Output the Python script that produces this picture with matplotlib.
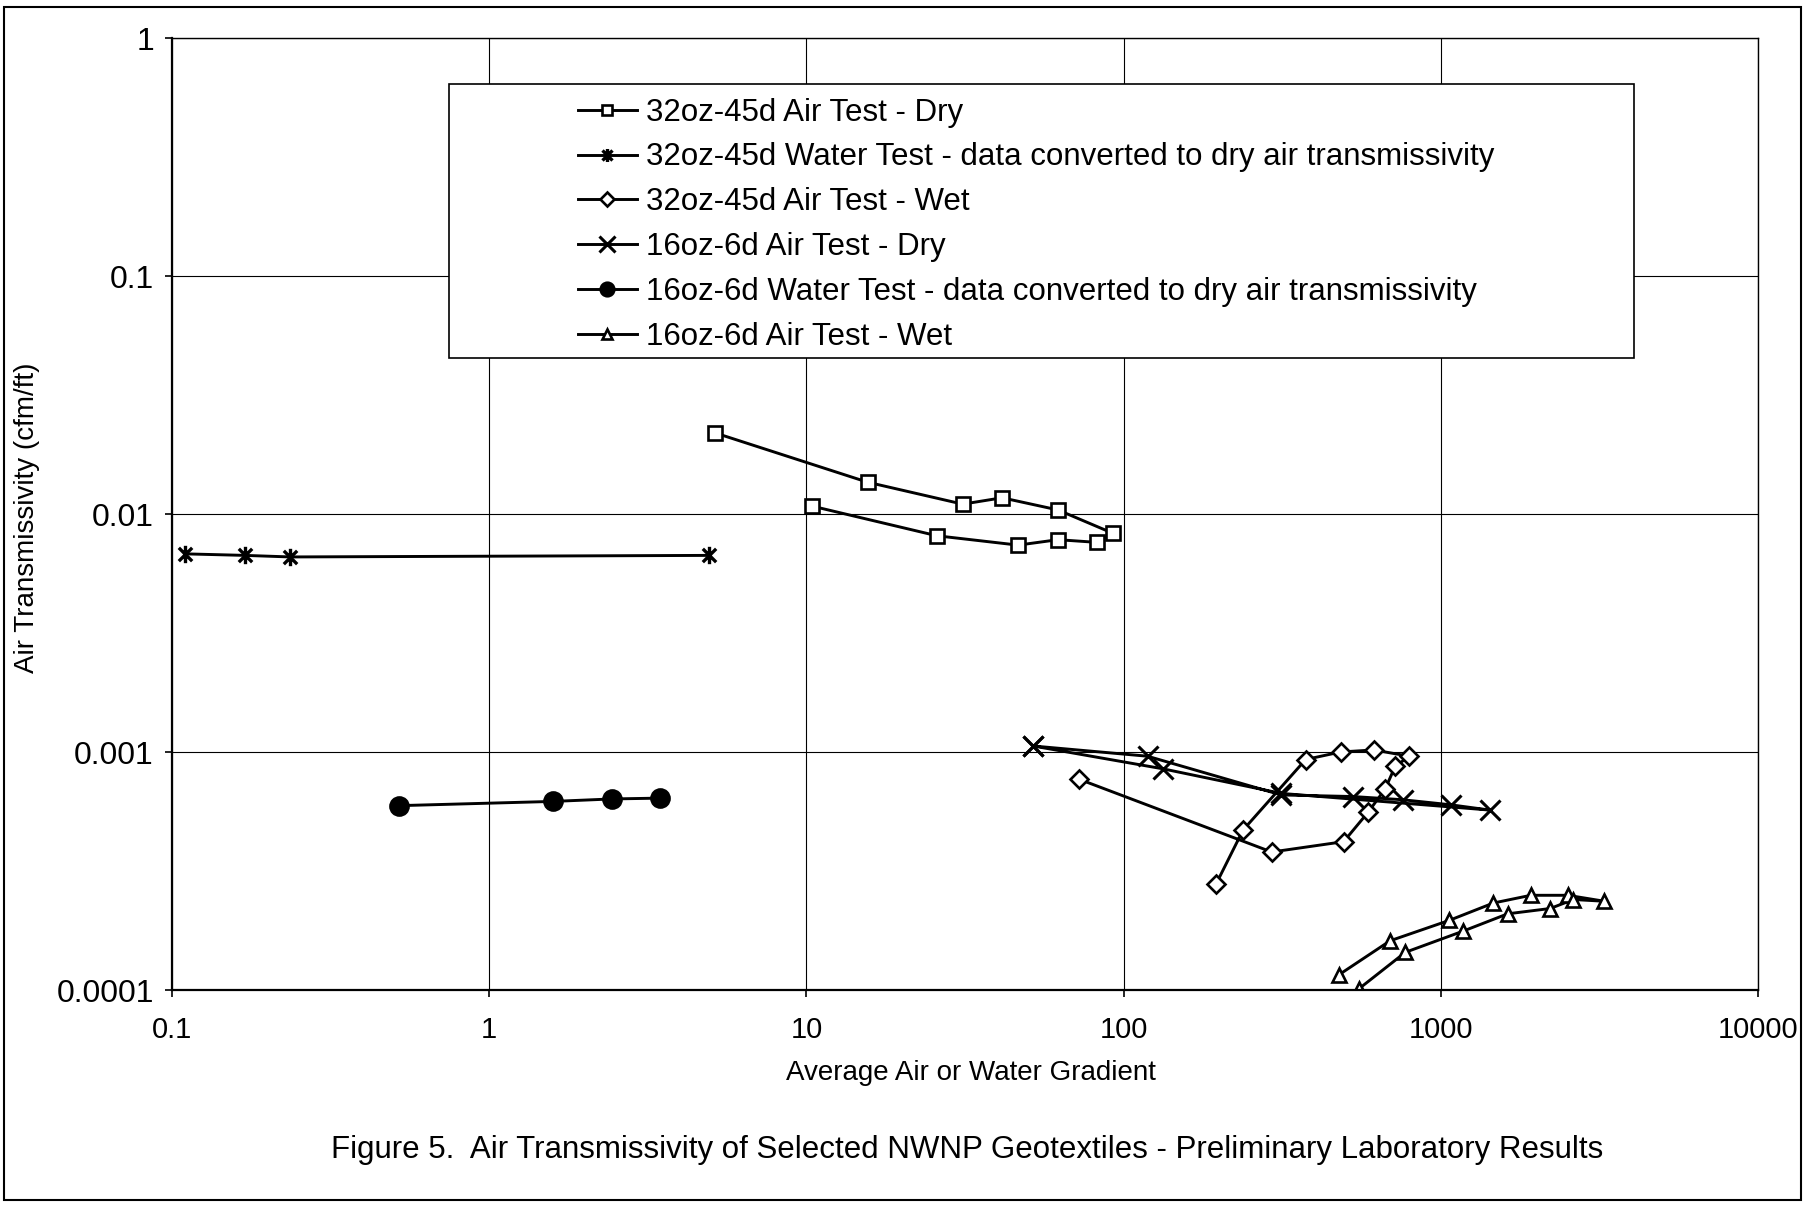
import matplotlib
matplotlib.use('Agg')
from matplotlib import pyplot as plt
from matplotlib.path import Path
from matplotlib.patches import Rectangle
import matplotlib.ticker as ticker

plt.rcParams['font.family'] = ['Liberation Sans', 'DejaVu Sans']

# 32oz-45d fabric, air test dry (gradient stepped up, then back down)
dry32_x = [5.16, 15.6, 31.1, 41.4, 62.1, 92.5, 82.4, 62.1, 46.5, 25.8, 10.4]
dry32_y = [0.0219, 0.0136, 0.0110, 0.0117, 0.0104, 0.0083, 0.0076, 0.0078, 0.0074, 0.0081, 0.0108]

# 32oz-45d water test, converted to dry air transmissivity
water32_x = [0.110, 0.170, 0.236, 4.94]
water32_y = [0.0068, 0.0067, 0.0066, 0.0067]

# 32oz-45d air test wet
wet32_x = [72.1, 293, 494, 591, 668, 718, 796, 614, 483, 375, 238, 196]
wet32_y = [0.00077, 0.00038, 0.00042, 0.00056, 0.00070, 0.00087, 0.00096,
           0.00102, 0.00100, 0.00093, 0.00047, 0.00028]

# 16oz-6d air test dry
dry16_x = [51.8, 119, 314, 528, 759, 1074, 1430, 314, 133, 51.8]
dry16_y = [0.00106, 0.00096, 0.00066, 0.00065, 0.00063, 0.00060, 0.00057,
           0.00067, 0.00085, 0.00106]

# 16oz-6d water test, converted to dry air transmissivity
water16_x = [0.518, 1.59, 2.44, 3.46]
water16_y = [0.000595, 0.00062, 0.000635, 0.00064]

# 16oz-6d air test wet
wet16_x = [478, 692, 1062, 1465, 1922, 2513, 3279, 2620, 2212, 1625, 1179, 773, 551]
wet16_y = [0.000116, 0.000161, 0.000196, 0.000232, 0.000250, 0.000250, 0.000236,
           0.000240, 0.000220, 0.000209, 0.000177, 0.000144, 0.000101]

labels = ['32oz-45d Air Test - Dry',
          '32oz-45d Water Test - data converted to dry air transmissivity',
          '32oz-45d Air Test - Wet',
          '16oz-6d Air Test - Dry',
          '16oz-6d Water Test - data converted to dry air transmissivity',
          '16oz-6d Air Test - Wet']

x_ticks = [0.1, 1, 10, 100, 1000, 10000]
x_tick_labels = ['0.1', '1', '10', '100', '1000', '10000']
y_ticks = [0.0001, 0.001, 0.01, 0.1, 1]
y_tick_labels = ['0.0001', '0.001', '0.01', '0.1', '1']

# asterisk marker: an x with a vertical bar through it
star = Path([(-1, -1), (1, 1), (-1, 1), (1, -1), (0, -1.3), (0, 1.3)],
            [Path.MOVETO, Path.LINETO, Path.MOVETO, Path.LINETO, Path.MOVETO, Path.LINETO])

W, H = 1806, 1206
fig = plt.figure(figsize=(W / 100, H / 100), dpi=100)
ax = fig.add_axes([172 / W, 1 - 990 / H, (1758 - 172) / W, (990 - 38) / H])

lw = 2.1
common = dict(color='black', lw=lw, mec='black', mew=1.9)
ax.plot(dry32_x, dry32_y, marker='s', ms=10, mfc='white', label=labels[0], **common)
ax.plot(water32_x, water32_y, marker=star, ms=12.5, mfc='none', label=labels[1],
        color='black', lw=lw, mec='black', mew=2.4)
ax.plot(wet32_x, wet32_y, marker='D', ms=9, mfc='white', label=labels[2], **common)
ax.plot(dry16_x, dry16_y, marker='x', ms=15, mfc='none', label=labels[3],
        color='black', lw=lw, mec='black', mew=2.2)
ax.plot(water16_x, water16_y, marker='o', ms=13, mfc='black', label=labels[4], **common)
ax.plot(wet16_x, wet16_y, marker='^', ms=10, mfc='white', label=labels[5], **common)

ax.set_xscale('log')
ax.set_yscale('log')
ax.set_xlim(0.1, 10000)
ax.set_ylim(0.0001, 1)
ax.set_xticks(x_ticks, labels=x_tick_labels)
ax.set_yticks(y_ticks, labels=y_tick_labels)
ax.xaxis.set_minor_locator(ticker.NullLocator())
ax.yaxis.set_minor_locator(ticker.NullLocator())
ax.grid(True, which='major', color='black', lw=0.8)
ax.set_axisbelow(True)
for sp in ax.spines.values():
    sp.set_color('black')
    sp.set_linewidth(1.0)
ax.spines['left'].set_linewidth(1.6)
ax.spines['bottom'].set_linewidth(1.6)
ax.tick_params(axis='both', direction='out', length=5, width=1.2, color='black')
ax.tick_params(axis='x', labelsize=21, pad=13.5)
ax.tick_params(axis='y', labelsize=23, pad=8)

# legend, boxed like the spreadsheet legend
fig.patches.append(Rectangle((449 / W, 1 - 358 / H), (1634 - 449) / W, (358 - 84) / H,
                             transform=fig.transFigure, fill=True, facecolor='white',
                             edgecolor='black', lw=1.2, zorder=3))
leg = fig.legend(loc='upper left', bbox_to_anchor=(562 / W, 1 - 82 / H),
                 frameon=False, fontsize=22.5, handlelength=1.9, handletextpad=0.3,
                 labelspacing=0.475, borderpad=0, markerscale=0.75)
leg.set_zorder(4)

fig.text(27 / W, 1 - 518 / H, 'Air Transmissivity (cfm/ft)', rotation=90,
         ha='center', va='center', fontsize=20)
fig.text(971 / W, 1 - 1073 / H, 'Average Air or Water Gradient',
         ha='center', va='center', fontsize=20)
fig.text(967 / W, 1 - 1150 / H,
         'Figure 5.  Air Transmissivity of Selected NWNP Geotextiles - Preliminary Laboratory Results',
         ha='center', va='center', fontsize=22.5)

# outer frame round the whole chart
fig.patches.append(Rectangle((4 / W, 6 / H), (1801 - 4) / W, (1199 - 6) / H,
                             transform=fig.transFigure, fill=False,
                             edgecolor='black', lw=1.5))

fig.savefig('out.png', dpi=100)
